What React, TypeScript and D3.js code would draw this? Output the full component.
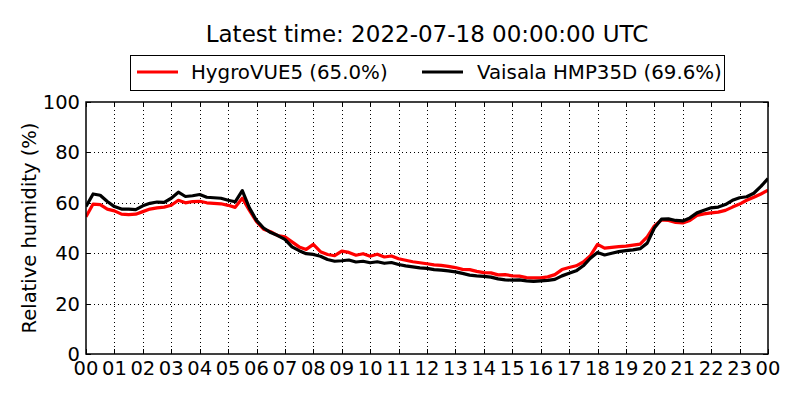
import { useRef, useEffect } from "react";
import * as d3 from "d3";

// hour of day (0-24), 15-minute steps
const hours = d3.range(0, 24.001, 0.25);

// HygroVUE5 relative humidity (%)
const hygroVue = [
  54.5, 59.5, 59.3, 57.5, 56.8, 55.5, 55.3, 55.5, 56.5, 57.5, 58.0, 58.3,
  59.0, 61.0, 60.0, 60.5, 60.6, 60.0, 59.8, 59.6, 59.0, 58.2, 61.8, 57.0,
  52.5, 49.5, 48.5, 47.0, 46.5, 44.5, 42.5, 41.5, 43.5, 40.6, 39.5, 39.0,
  40.8, 40.3, 39.2, 39.8, 38.8, 39.6, 38.5, 38.9, 37.8, 37.2, 36.6, 36.2,
  35.8, 35.4, 35.2, 34.8, 34.3, 33.6, 33.5, 32.8, 32.3, 32.2, 31.4, 31.5,
  31.0, 30.9, 30.3, 30.2, 30.2, 30.6, 31.5, 33.5, 34.3, 35.0, 36.5, 39.0,
  43.5, 42.0, 42.3, 42.6, 42.8, 43.2, 43.6, 46.5, 50.8, 53.2, 53.0, 52.2,
  52.0, 53.0, 55.0, 55.6, 56.0, 56.3, 57.0, 58.3, 59.5, 61.0, 62.2, 63.5,
  65.0,
];

// Vaisala HMP35D relative humidity (%)
const vaisala = [
  58.5, 63.5, 63.0, 60.5, 58.5, 57.5, 57.5, 57.3, 58.8, 59.8, 60.3, 60.2,
  61.8, 64.2, 62.5, 62.8, 63.3, 62.2, 62.0, 61.8, 61.0, 60.4, 64.8, 58.0,
  53.0, 50.0, 48.2, 47.0, 45.5, 42.5, 41.0, 39.8, 39.5, 38.8, 37.5, 36.8,
  37.0, 37.3, 36.5, 36.8, 36.2, 36.6, 36.0, 36.3, 35.5, 35.0, 34.6, 34.2,
  34.0, 33.5, 33.3, 33.0, 32.6, 32.0, 31.3, 31.0, 30.8, 30.5, 29.8, 29.4,
  29.3, 29.4, 29.0, 28.8, 29.0, 29.2, 29.6, 31.0, 32.0, 33.0, 35.0, 38.0,
  40.3, 39.3, 40.0, 40.6, 41.0, 41.3, 41.8, 44.0, 50.0, 53.5, 53.6, 53.0,
  52.8, 54.0, 56.0, 57.0, 58.0, 58.3, 59.3, 61.0, 62.0, 62.4, 63.8, 66.5,
  69.6,
];

const xTicks = d3.range(0, 25, 1);
const xTickLabels = xTicks.map((h) => String(h % 24).padStart(2, "0"));
const yTicks = [0, 20, 40, 60, 80, 100];

const series = [
  { name: "HygroVUE5 (65.0%)", color: "#ff0000", values: hygroVue },
  { name: "Vaisala HMP35D (69.6%)", color: "#000000", values: vaisala },
];

export default function App() {
  const svgRef = useRef<SVGSVGElement>(null);

  useEffect(() => {
    if (!svgRef.current) return;
    const svg = d3.select(svgRef.current);
    svg.selectAll("*").remove();

    const font = "'DejaVu Sans', sans-serif";
    const left = 86, right = 768, top = 102, bottom = 354;

    const x = d3.scaleLinear().domain([0, 24]).range([left, right]);
    const y = d3.scaleLinear().domain([0, 100]).range([bottom, top]);

    svg.append("rect").attr("width", 800).attr("height", 400).attr("fill", "#fff");

    // grid
    const grid = svg.append("g").attr("stroke", "#000").attr("stroke-width", 1)
      .attr("stroke-dasharray", "1,3").attr("shape-rendering", "crispEdges");
    xTicks.slice(1, -1).forEach((t) => {
      grid.append("line").attr("x1", Math.round(x(t)) + 0.5).attr("x2", Math.round(x(t)) + 0.5)
        .attr("y1", top).attr("y2", bottom);
    });
    yTicks.slice(1, -1).forEach((t) => {
      grid.append("line").attr("y1", Math.round(y(t)) + 0.5).attr("y2", Math.round(y(t)) + 0.5)
        .attr("x1", left).attr("x2", right);
    });

    // lines
    const clip = svg.append("defs").append("clipPath").attr("id", "plotclip");
    clip.append("rect").attr("x", left).attr("y", top).attr("width", right - left).attr("height", bottom - top);

    const line = d3.line<number>()
      .x((_, i) => x(hours[i]))
      .y((d) => y(d));

    series.forEach((s) => {
      svg.append("path")
        .attr("d", line(s.values))
        .attr("fill", "none")
        .attr("stroke", s.color)
        .attr("stroke-width", 3.2)
        .attr("stroke-linejoin", "round")
        .attr("clip-path", "url(#plotclip)");
    });

    // ticks (inside, all four sides)
    const ticks = svg.append("g").attr("stroke", "#000").attr("stroke-width", 1)
      .attr("shape-rendering", "crispEdges");
    xTicks.forEach((t) => {
      const px = Math.round(x(t)) + 0.5;
      ticks.append("line").attr("x1", px).attr("x2", px).attr("y1", bottom).attr("y2", bottom - 5);
      ticks.append("line").attr("x1", px).attr("x2", px).attr("y1", top).attr("y2", top + 5);
    });
    yTicks.forEach((t) => {
      const py = Math.round(y(t)) + 0.5;
      ticks.append("line").attr("y1", py).attr("y2", py).attr("x1", left).attr("x2", left + 5);
      ticks.append("line").attr("y1", py).attr("y2", py).attr("x1", right).attr("x2", right - 5);
    });

    // frame
    svg.append("rect")
      .attr("x", left).attr("y", top).attr("width", right - left).attr("height", bottom - top)
      .attr("fill", "none").attr("stroke", "#000").attr("stroke-width", 1.5);

    // tick labels
    xTicks.forEach((t, i) => {
      svg.append("text")
        .attr("x", x(t)).attr("y", 375)
        .attr("text-anchor", "middle")
        .attr("font-family", font).attr("font-size", 19.5)
        .text(xTickLabels[i]);
    });
    yTicks.forEach((t) => {
      svg.append("text")
        .attr("x", 80).attr("y", y(t) + 7)
        .attr("text-anchor", "end")
        .attr("font-family", font).attr("font-size", 19.5)
        .text(String(t));
    });

    // y label
    svg.append("text")
      .attr("transform", `translate(36,${(top + bottom) / 2}) rotate(-90)`)
      .attr("text-anchor", "middle")
      .attr("font-family", font).attr("font-size", 19.5)
      .text("Relative humidity (%)");

    // title
    svg.append("text")
      .attr("x", (left + right) / 2).attr("y", 42)
      .attr("text-anchor", "middle")
      .attr("font-family", font).attr("font-size", 23)
      .text("Latest time: 2022-07-18 00:00:00 UTC");

    // legend
    const lg = svg.append("g");
    lg.append("rect")
      .attr("x", 130.5).attr("y", 55.5).attr("width", 594).attr("height", 35)
      .attr("fill", "#fff").attr("stroke", "#000").attr("stroke-width", 1);
    const items = [
      { x0: 137, tx: 191 },
      { x0: 422, tx: 477 },
    ];
    series.forEach((s, i) => {
      lg.append("line")
        .attr("x1", items[i].x0).attr("x2", items[i].x0 + 41)
        .attr("y1", 72).attr("y2", 72)
        .attr("stroke", s.color).attr("stroke-width", 3);
      lg.append("text")
        .attr("x", items[i].tx).attr("y", 79)
        .attr("font-family", font).attr("font-size", 19.8)
        .text(s.name);
    });
  }, []);

  return (
    <div style={{ position: "absolute", left: 0, top: 0 }}>
      <svg ref={svgRef} width={800} height={400} />
    </div>
  );
}
